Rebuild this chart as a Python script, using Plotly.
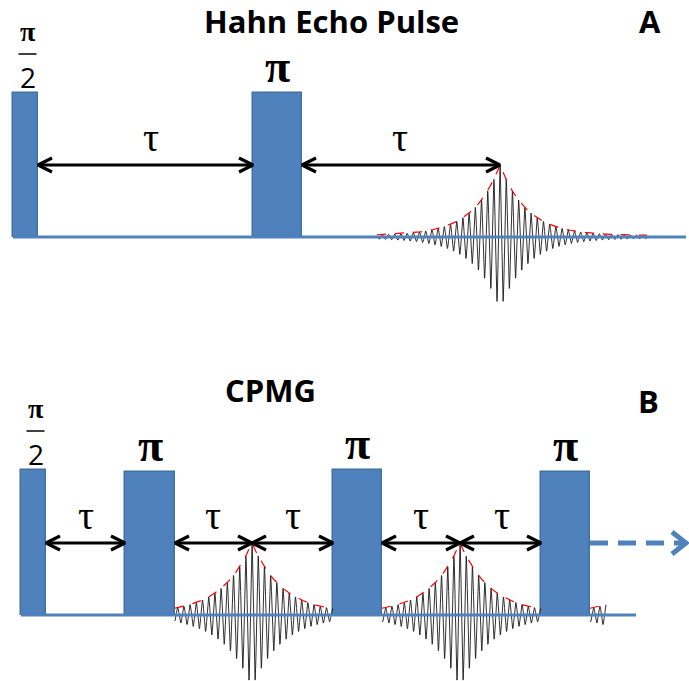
import numpy as np
import plotly.graph_objects as go

# Layout units: x runs left-to-right along the time axis, y runs downward.
PULSE_FILL = "#4F81BD"
PULSE_EDGE = "#41719C"

# ---- Panel A: Hahn echo sequence ----
a_pulse_left = [13, 253]
a_pulse_right = [38, 302]
a_pulse_top = [93, 93]
a_pulse_names = ["π/2", "π"]
a_baseline_y = 237
a_baseline_x = [13, 686]
a_arrow_y = 165
a_arrow_from = [38, 302]
a_arrow_to = [253, 500]
a_tau_x = [151, 400]
a_echo_center = [500]
a_echo_start = [377]
a_echo_end = [647]
a_echo_amp = 72
a_echo_decay = 27

# ---- Panel B: CPMG sequence ----
b_pulse_left = [21, 125, 333, 541]
b_pulse_right = [46, 175, 382, 590]
b_pulse_top = [470, 472, 470, 472]
b_pulse_names = ["π/2", "π", "π", "π"]
b_baseline_y = 615
b_baseline_x = [21, 636]
b_arrow_y = 543
b_arrow_from = [46, 175, 252, 382, 460]
b_arrow_to = [125, 252, 333, 460, 541]
b_tau_x = [86, 213, 293, 421, 502]
b_echo_center = [252, 460, 668]
b_echo_start = [175, 382, 590]
b_echo_end = [333, 541, 606]
b_echo_amp = 72
b_echo_decay = 30

echo_period = 6.2
echo_floor = 1.5


def echo_trace(center, start, end, base, amp, decay):
    t = np.linspace(start, end, int((end - start) * 12) + 1)
    d = t - center
    env = echo_floor + (amp - echo_floor) * np.exp(-np.abs(d) / decay)
    sig = base - env * np.cos(2 * np.pi * d / echo_period)
    return t, sig, base - env


def double_arrow(x0, x1, y, head=14, half=7):
    xs = [x0, x1, None,
          x0 + head, x0, x0 + head, None,
          x1 - head, x1, x1 - head, None]
    ys = [y, y, None,
          y - half, y, y + half, None,
          y - half, y, y + half, None]
    return xs, ys


fig = go.Figure()

panels = [
    (a_echo_center, a_echo_start, a_echo_end, a_baseline_y, a_echo_amp, a_echo_decay),
    (b_echo_center, b_echo_start, b_echo_end, b_baseline_y, b_echo_amp, b_echo_decay),
]

# Echo signals and their red dashed envelopes
for centers, starts, ends, base, amp, decay in panels:
    for c, s, e in zip(centers, starts, ends):
        t, sig, env = echo_trace(c, s, e, base, amp, decay)
        fig.add_trace(go.Scatter(x=t, y=sig, mode="lines",
                                 line=dict(color="#1a1a1a", width=0.9),
                                 hoverinfo="skip", showlegend=False))
        fig.add_trace(go.Scatter(x=t, y=env, mode="lines",
                                 line=dict(color="red", width=1.2, dash="dash"),
                                 hoverinfo="skip", showlegend=False))

# Baselines
for bx, by in [(a_baseline_x, a_baseline_y), (b_baseline_x, b_baseline_y)]:
    fig.add_trace(go.Scatter(x=bx, y=[by, by], mode="lines",
                             line=dict(color=PULSE_FILL, width=3),
                             hoverinfo="skip", showlegend=False))

# RF pulses as bars
for lefts, rights, tops, base in [(a_pulse_left, a_pulse_right, a_pulse_top, a_baseline_y),
                                  (b_pulse_left, b_pulse_right, b_pulse_top, b_baseline_y)]:
    centers = [(l + r) / 2 for l, r in zip(lefts, rights)]
    widths = [r - l for l, r in zip(lefts, rights)]
    heights = [t - base for t in tops]
    fig.add_trace(go.Bar(x=centers, y=heights, base=[base] * len(centers), width=widths,
                         marker=dict(color=PULSE_FILL, line=dict(color=PULSE_EDGE, width=1.5)),
                         hoverinfo="skip", showlegend=False))

# Double-headed tau arrows
for froms, tos, ay in [(a_arrow_from, a_arrow_to, a_arrow_y),
                       (b_arrow_from, b_arrow_to, b_arrow_y)]:
    xs, ys = [], []
    for x0, x1 in zip(froms, tos):
        px, py = double_arrow(x0, x1, ay)
        xs += px
        ys += py
    fig.add_trace(go.Scatter(x=xs, y=ys, mode="lines",
                             line=dict(color="black", width=3.2),
                             hoverinfo="skip", showlegend=False))

# Dashed continuation arrow after the last CPMG pulse
cont_x0 = b_pulse_right[-1]
cont_x1 = 686
fig.add_trace(go.Scatter(x=[cont_x0, cont_x1 - 4], y=[b_arrow_y, b_arrow_y], mode="lines",
                         line=dict(color=PULSE_FILL, width=5, dash="18px,10px"),
                         hoverinfo="skip", showlegend=False))
fig.add_trace(go.Scatter(x=[cont_x1 - 14, cont_x1, cont_x1 - 14],
                         y=[b_arrow_y - 11, b_arrow_y, b_arrow_y + 11], mode="lines",
                         line=dict(color=PULSE_FILL, width=5),
                         hoverinfo="skip", showlegend=False))

annotations = []


def add_text(x, y, text, size, family, bold=False, color="black"):
    annotations.append(dict(x=x, y=y, xref="x", yref="y", text=f"<b>{text}</b>" if bold else text,
                            showarrow=False, xanchor="center", yanchor="middle",
                            font=dict(size=size, family=family, color=color)))


SANS = "Open Sans"
SERIF = "Liberation Serif"

# Titles and panel letters
add_text(331, 21, "Hahn Echo Pulse", 31, SANS, bold=True)
add_text(650, 21, "A", 31, SANS, bold=True)
add_text(270, 390, "CPMG", 31, SANS, bold=True)
add_text(648, 401, "B", 31, SANS, bold=True)

# Tau labels
for tx in a_tau_x:
    add_text(tx, a_arrow_y - 28, "τ", 40, SERIF)
for tx in b_tau_x:
    add_text(tx, b_arrow_y - 28, "τ", 40, SERIF)


def pulse_labels(lefts, rights, tops, names):
    for l, r, t, name in zip(lefts, rights, tops, names):
        cx = (l + r) / 2
        if name == "π/2":
            cx += 2
            add_text(cx, t - 62, "π", 28, SERIF, bold=True)
            add_text(cx, t - 16, "2", 28, SANS)
            fig.add_trace(go.Scatter(x=[cx - 9, cx + 9], y=[t - 39, t - 39], mode="lines",
                                     line=dict(color="black", width=1.5),
                                     hoverinfo="skip", showlegend=False))
        else:
            add_text(cx, t - 27, "π", 46, SERIF, bold=True)


pulse_labels(a_pulse_left, a_pulse_right, a_pulse_top, a_pulse_names)
pulse_labels(b_pulse_left, b_pulse_right, b_pulse_top, b_pulse_names)

fig.update_layout(
    width=689, height=681,
    margin=dict(l=0, r=0, t=0, b=0),
    paper_bgcolor="white", plot_bgcolor="white",
    annotations=annotations,
    bargap=0,
    xaxis=dict(range=[0, 689], visible=False, fixedrange=True),
    yaxis=dict(range=[681, 0], visible=False, fixedrange=True),
    showlegend=False,
)

fig.write_html("out.html")
